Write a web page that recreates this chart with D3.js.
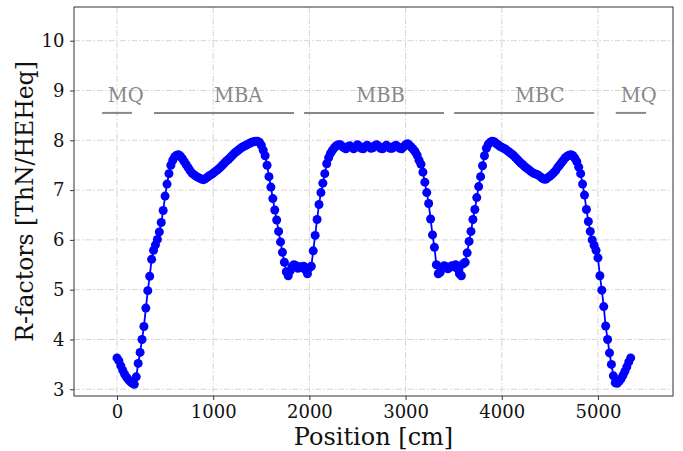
<!DOCTYPE html>
<html>
<head>
<meta charset="utf-8">
<script src="https://cdn.jsdelivr.net/npm/d3@7"></script>
<style>
  html, body { margin: 0; padding: 0; background: #fff; }
  svg { display: block; }
  text { font-family: "DejaVu Serif", serif; }
</style>
</head>
<body>
<svg id="chart" width="683" height="451"></svg>
<script>
// ---- data ----
const positions = [
  0,20,40,60,80,100,120,140,160,180,200,220,240,260,280,300,320,340,360,380,
  400,420,440,460,480,500,520,540,560,580,600,620,640,660,680,700,720,740,760,780,
  800,820,840,860,880,900,920,940,960,980,1000,1020,1040,1060,1080,1100,1120,1140,1160,1180,
  1200,1220,1240,1260,1280,1300,1320,1340,1360,1380,1400,1420,1440,1460,1480,1500,1520,1540,1560,1580,
  1600,1620,1640,1660,1680,1700,1720,1740,1760,1780,1800,1820,1840,1860,1880,1900,1920,1940,1960,1980,
  2000,2020,2040,2060,2080,2100,2120,2140,2160,2180,2200,2220,2240,2260,2280,2300,2320,2340,2360,2380,
  2400,2420,2440,2460,2480,2500,2520,2540,2560,2580,2600,2620,2640,2660,2680,2700,2720,2740,2760,2780,
  2800,2820,2840,2860,2880,2900,2920,2940,2960,2980,3000,3020,3040,3060,3080,3100,3120,3140,3160,3180,
  3200,3220,3240,3260,3280,3300,3320,3340,3360,3380,3400,3420,3440,3460,3480,3500,3520,3540,3560,3580,
  3600,3620,3640,3660,3680,3700,3720,3740,3760,3780,3800,3820,3840,3860,3880,3900,3920,3940,3960,3980,
  4000,4020,4040,4060,4080,4100,4120,4140,4160,4180,4200,4220,4240,4260,4280,4300,4320,4340,4360,4380,
  4400,4420,4440,4460,4480,4500,4520,4540,4560,4580,4600,4620,4640,4660,4680,4700,4720,4740,4760,4780,
  4800,4820,4840,4860,4880,4900,4920,4940,4960,4980,5000,5020,5040,5060,5080,5100,5120,5140,5160,5180,
  5200,5220,5240,5260,5280,5300,5320,5340
];
const rFactors = [
  3.63,3.57,3.47,3.38,3.30,3.24,3.19,3.15,3.12,3.10,3.25,3.52,3.74,4.00,4.26,4.63,4.98,5.27,5.61,5.79,
  5.90,6.01,6.16,6.35,6.59,6.88,7.12,7.33,7.50,7.60,7.67,7.70,7.71,7.68,7.63,7.57,7.51,7.45,7.39,7.34,
  7.31,7.28,7.26,7.24,7.22,7.21,7.23,7.26,7.29,7.31,7.34,7.37,7.40,7.43,7.47,7.51,7.55,7.59,7.62,7.66,
  7.70,7.74,7.77,7.80,7.83,7.86,7.88,7.90,7.92,7.94,7.96,7.97,7.98,7.98,7.96,7.90,7.80,7.69,7.50,7.27,
  7.06,6.83,6.60,6.40,6.17,5.96,5.75,5.55,5.36,5.28,5.38,5.47,5.50,5.48,5.43,5.46,5.44,5.47,5.40,5.32,
  5.44,5.47,5.78,6.09,6.41,6.71,6.95,7.14,7.33,7.53,7.65,7.74,7.80,7.85,7.89,7.91,7.91,7.88,7.85,7.83,
  7.87,7.89,7.86,7.83,7.86,7.91,7.88,7.84,7.83,7.87,7.90,7.87,7.84,7.85,7.89,7.91,7.88,7.84,7.83,7.86,
  7.90,7.87,7.84,7.84,7.88,7.90,7.87,7.84,7.83,7.87,7.91,7.93,7.90,7.86,7.82,7.77,7.70,7.60,7.52,7.36,
  7.16,6.95,6.73,6.42,6.10,5.85,5.50,5.32,5.35,5.45,5.48,5.46,5.42,5.45,5.48,5.46,5.50,5.42,5.32,5.28,
  5.52,5.55,5.74,5.97,6.17,6.41,6.61,6.85,7.07,7.27,7.49,7.69,7.84,7.92,7.96,7.98,7.97,7.94,7.91,7.88,
  7.86,7.84,7.82,7.79,7.76,7.73,7.70,7.66,7.62,7.58,7.54,7.51,7.47,7.44,7.41,7.38,7.35,7.33,7.32,7.30,
  7.27,7.24,7.22,7.22,7.25,7.28,7.31,7.35,7.39,7.45,7.50,7.55,7.60,7.65,7.68,7.70,7.71,7.69,7.64,7.57,
  7.46,7.33,7.12,6.90,6.61,6.37,6.17,6.00,5.89,5.79,5.64,5.28,4.99,4.66,4.27,4.00,3.73,3.50,3.27,3.13,
  3.12,3.16,3.21,3.28,3.36,3.45,3.55,3.63
];
// magnet regions
const regionNames = ["MQ", "MBA", "MBB", "MBC", "MQ"];
const regionStart = [-155, 385, 1945, 3505, 5185];
const regionEnd   = [155, 1840, 3400, 4960, 5500];
const regionLabelX = [90, 1260, 2740, 4395, 5425];
const regionLineY = 8.55;
const regionLabelY = 8.76;
const xTicks = [0, 1000, 2000, 3000, 4000, 5000];
const yTicks = [3, 4, 5, 6, 7, 8, 9, 10];

// ---- layout ----
const svg = d3.select("#chart");
const L = 74, T = 7, R = 673, B = 396;
const x = d3.scaleLinear().domain([-447, 5780]).range([L, R]);
const y = d3.scaleLinear().domain([2.865, 10.677]).range([B, T]);

// grid
const grid = svg.append("g").attr("stroke", "#d4d4d4").attr("stroke-width", 1)
  .attr("stroke-dasharray", "6,2,1.5,2");
grid.selectAll("line.vx").data(xTicks).enter().append("line")
  .attr("x1", d => x(d)).attr("x2", d => x(d)).attr("y1", T).attr("y2", B);
grid.selectAll("line.hy").data(yTicks).enter().append("line")
  .attr("x1", L).attr("x2", R).attr("y1", d => y(d)).attr("y2", d => y(d));

// axes
const xAxis = d3.axisBottom(x).tickValues(xTicks).tickSize(4).tickPadding(5).tickFormat(d3.format("d"));
const yAxis = d3.axisLeft(y).tickValues(yTicks).tickSize(4).tickPadding(5.5).tickFormat(d3.format("d"));
const gx = svg.append("g").attr("transform", `translate(0,${B})`).call(xAxis);
const gy = svg.append("g").attr("transform", `translate(${L},0)`).call(yAxis);
[gx, gy].forEach(g => {
  g.select(".domain").remove();
  g.selectAll(".tick line").attr("stroke", "#222").attr("stroke-width", 0.9);
  g.selectAll(".tick text").attr("fill", "#111").style("font-family", "DejaVu Serif")
    .style("font-size", "18px");
});

// spines
svg.append("rect").attr("x", L).attr("y", T).attr("width", R - L).attr("height", B - T)
  .attr("fill", "none").attr("stroke", "#333").attr("stroke-width", 1);

// region lines & labels
const reg = svg.append("g");
reg.selectAll("line").data(regionNames).enter().append("line")
  .attr("x1", (d, i) => x(regionStart[i])).attr("x2", (d, i) => x(regionEnd[i]))
  .attr("y1", y(regionLineY)).attr("y2", y(regionLineY))
  .attr("stroke", "#888").attr("stroke-width", 2);
reg.selectAll("text").data(regionNames).enter().append("text")
  .attr("x", (d, i) => x(regionLabelX[i])).attr("y", y(regionLabelY))
  .attr("text-anchor", "middle").attr("fill", "#888")
  .style("font-size", "19.5px").text(d => d);

// data line + markers
const pts = positions.map((p, i) => [p, rFactors[i]]);
svg.append("path").datum(pts)
  .attr("fill", "none").attr("stroke", "#0000ff").attr("stroke-width", 1.8)
  .attr("d", d3.line().x(d => x(d[0])).y(d => y(d[1])));
svg.append("g").selectAll("circle").data(pts).enter().append("circle")
  .attr("cx", d => x(d[0])).attr("cy", d => y(d[1])).attr("r", 4.5)
  .attr("fill", "#0000ff");

// axis labels
svg.append("text").attr("x", (L + R) / 2).attr("y", 445).attr("text-anchor", "middle")
  .attr("fill", "#111").style("font-size", "24px").text("Position [cm]");
svg.append("text").attr("transform", `translate(33,${(T + B) / 2}) rotate(-90)`)
  .attr("text-anchor", "middle").attr("fill", "#111").style("font-size", "23.5px")
  .text("R-factors [ThN/HEHeq]");
</script>
</body>
</html>
